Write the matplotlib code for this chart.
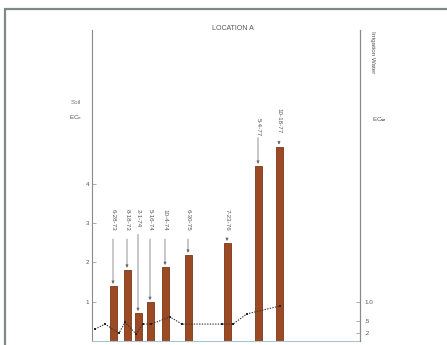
"""
Location A: soil ECe (bars) and irrigation water ECw (dotted line) over sampling dates.
"""
import matplotlib
matplotlib.use("Agg")
import matplotlib.pyplot as plt
from matplotlib.patches import Rectangle

plt.rcParams['font.family'] = ['Liberation Sans', 'DejaVu Sans']

# soil samples (bars)
datas_solo = ['6-28-73', '8-18-73', '2-1-74', '5-16-74', '10-4-74',
              '6-30-75', '7-23-76', '5-4-77', '10-18-77']
ece_solo = [1.4, 1.81, 0.71, 0.99, 1.88, 2.19, 2.49, 4.45, 4.94]

# irrigation water samples (dotted line)
ecw_agua = [0.3, 0.43, 0.2, 0.48, 0.18, 0.43, 0.43, 0.61, 0.43, 0.43, 0.43, 0.69, 0.89]

# horizontal layout (no time scale on the original, spacing)
pos_barras = [113, 127, 138, 150, 165, 188, 227, 258, 279]
pos_agua = [95, 105, 119, 125, 136, 143, 151, 170, 182, 222, 233, 247, 280]
# top of each date label, in ECe units
topo_rotulo = [3.36, 3.36, 3.36, 3.36, 3.36, 3.36, 3.36, 5.67, 5.93]
comp_rotulo = [0.72, 0.72, 0.6, 0.72, 0.72, 0.72, 0.72, 0.45, 0.8]

cinza = '#8a8a8a'
texto = '#555555'
marrom = '#9c4a24'

fig = plt.figure(figsize=(4.47, 3.45), dpi=100)
ax = fig.add_axes([92 / 447, 4 / 345, 268 / 447, 311 / 345])

ax.bar(pos_barras, ece_solo, width=7, color=marrom, edgecolor='#7a3518', linewidth=0.6, zorder=2)

# date labels with arrows
for x, h, d, t, c in zip(pos_barras, ece_solo, datas_solo, topo_rotulo, comp_rotulo):
    ax.text(x, t, d, rotation=270, ha='center', va='top', fontsize=4.5, color=texto)
    ax.annotate('', xy=(x, h + 0.05), xytext=(x, t - c - 0.05),
                arrowprops=dict(arrowstyle='-|>', color='#666666', lw=0.5,
                                mutation_scale=4, shrinkA=0, shrinkB=0))

ax.set_xlim(92, 360)
ax.set_ylim(0, 7.9)

for s in ['top']:
    ax.spines[s].set_visible(False)
for s in ['left', 'right', 'bottom']:
    ax.spines[s].set_color(cinza)
    ax.spines[s].set_linewidth(0.8)
ax.spines['bottom'].set_color('#a9c4cc')

ax.set_xticks([])
ax.set_yticks([1, 2, 3, 4])
ax.tick_params(axis='y', direction='in', length=3, width=0.5, colors=cinza,
               labelsize=4.5, labelcolor=texto, pad=2)

# right axis for water
ax2 = ax.twinx()
ax2.set_ylim(0, 7.9)
ax2.plot(pos_agua, ecw_agua, linestyle=(0, (1.2, 1.2)), color='#333333', lw=0.8,
         marker='s', markersize=2, markerfacecolor='#222222', markeredgewidth=0, zorder=3)
ax2.set_yticks([0.2, 0.5, 1.0])
ax2.set_yticklabels(['.2', '.5', '1.0'])
ax2.tick_params(axis='y', direction='in', length=3, width=0.5, colors=cinza,
                labelsize=4.5, labelcolor=texto, pad=3)
for s in ['top', 'left', 'bottom']:
    ax2.spines[s].set_visible(False)
ax2.spines['right'].set_color(cinza)
ax2.spines['right'].set_linewidth(0.8)

# axis titles
fig.text(233 / 447, 1 - 28 / 345, 'LOCATION A', ha='center', va='center', fontsize=5, color=texto)
fig.text(76 / 447, 1 - 102 / 345, 'Soil', ha='center', va='center', fontsize=4.5, color='#777777')
fig.text(76 / 447, 1 - 118 / 345, r'EC$_\mathrm{e}$', ha='center', va='center', fontsize=4.5, color=texto)
fig.text(372 / 447, 1 - 31 / 345, 'Irrigation Water', rotation=270, ha='center', va='top',
         fontsize=4.5, color=texto)
fig.text(379 / 447, 1 - 120 / 345, r'EC$_\mathbf{w}$', ha='center', va='center', fontsize=4.5, color=texto)

# scanned page frame
fig.add_artist(Rectangle((5 / 447, -0.2), 1.2, 1.2 - 8.5 / 345 + 0.0, transform=fig.transFigure,
                         fill=False, edgecolor='#7d8a87', linewidth=1.6))

fig.savefig('out.png', dpi=100, facecolor='white')
